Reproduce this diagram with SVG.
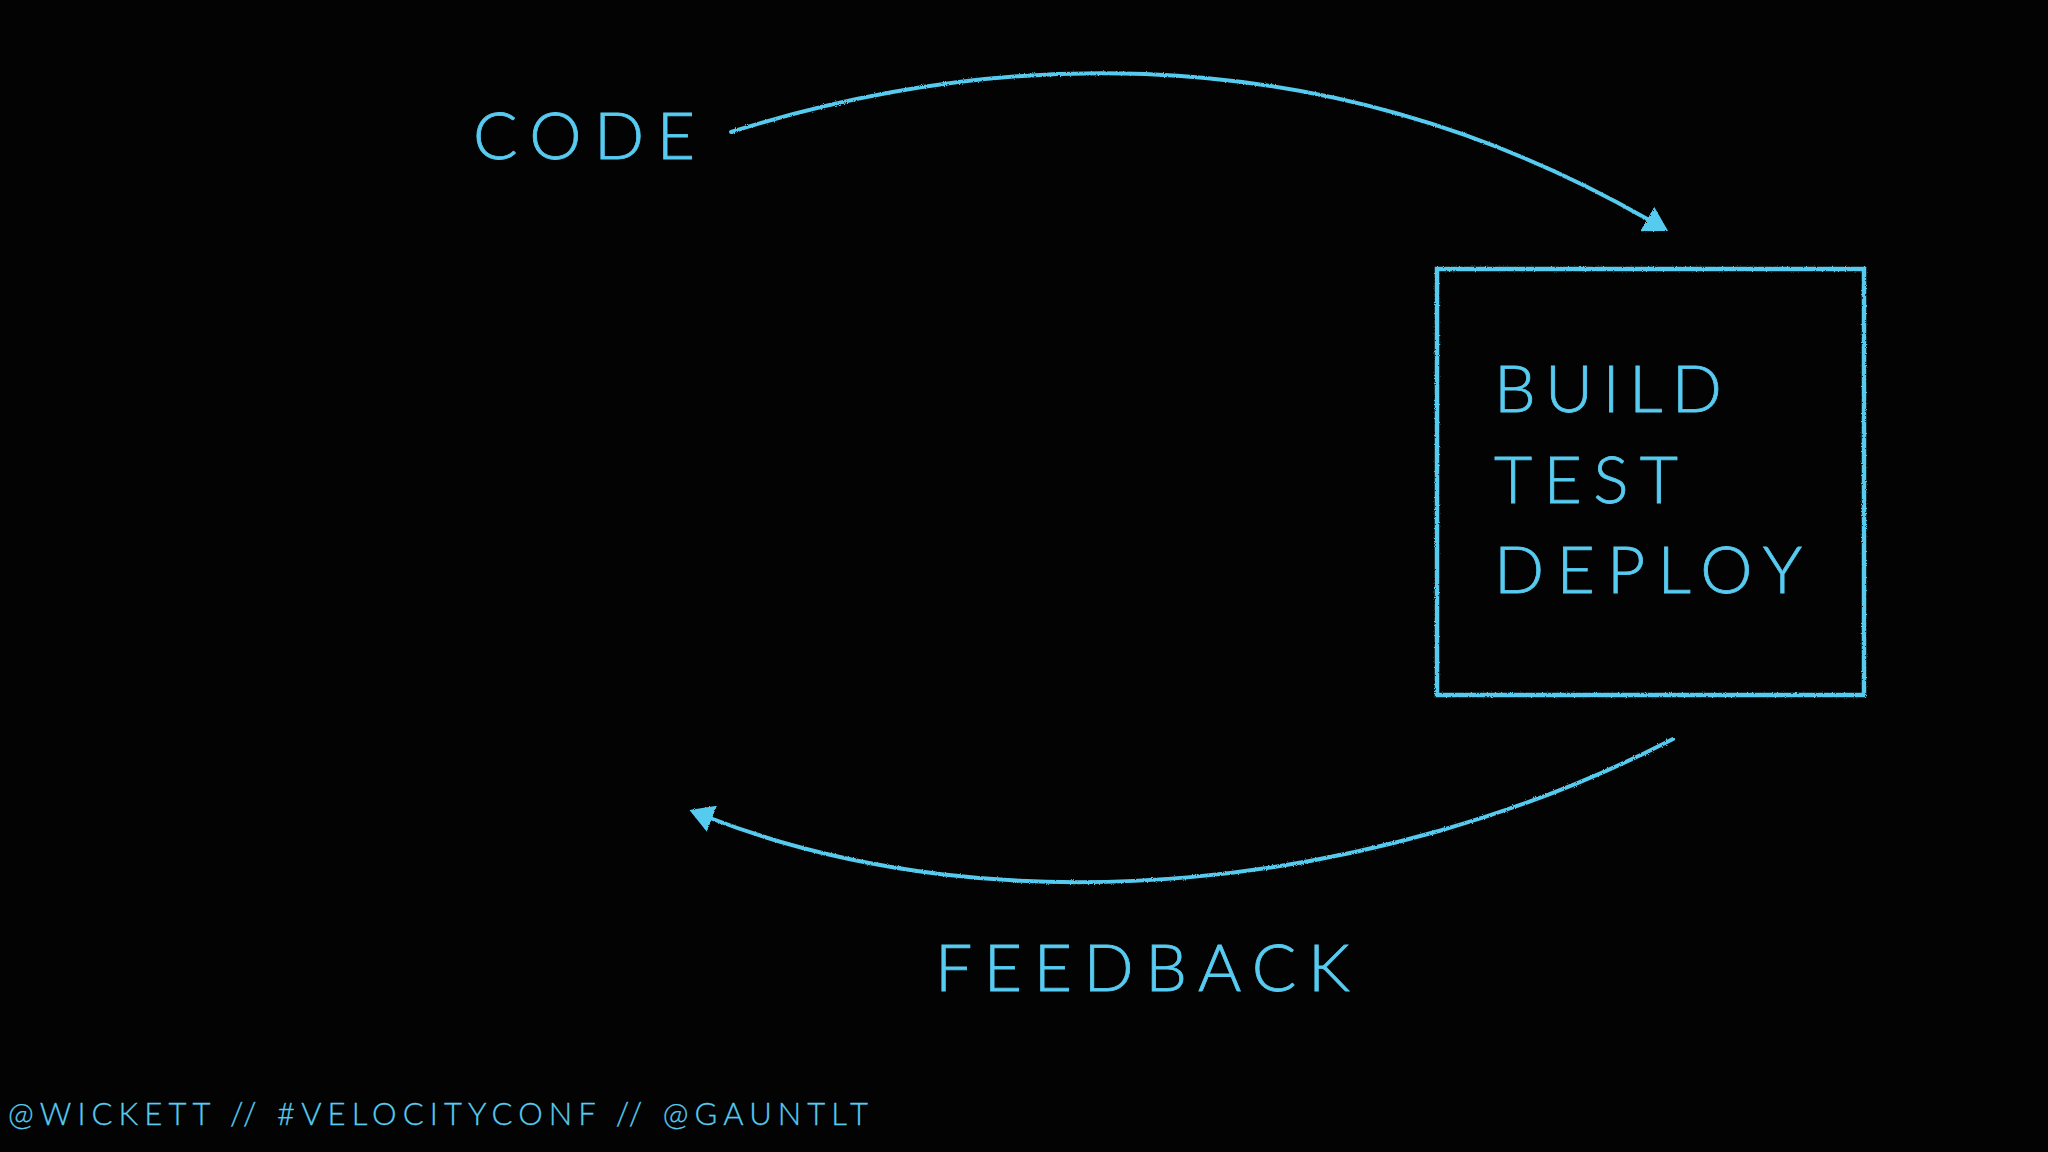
<svg xmlns="http://www.w3.org/2000/svg" width="2048" height="1152" viewBox="0 0 2048 1152">
<defs>
<style>
.t{font-family:Lato,"Noto Sans","Liberation Sans",sans-serif;fill:#57CBF0;font-weight:300;stroke:#57CBF0;stroke-width:0.8}
.big{font-size:66px}
.foot{font-size:31px;stroke-width:0.3}
.conn{fill:none;stroke:#57CBF0;stroke-width:4;stroke-linecap:round}
</style>
<filter id="chalk" x="-5%" y="-5%" width="110%" height="110%">
<feTurbulence type="fractalNoise" baseFrequency="0.9" numOctaves="2" seed="3" result="n"/>
<feDisplacementMap in="SourceGraphic" in2="n" scale="2.5"/>
</filter>
<marker id="arr" viewBox="0 0 24 28" refX="2" refY="14" markerWidth="24" markerHeight="28" markerUnits="userSpaceOnUse" orient="auto">
<path d="M0,0 L24,14 L0,28 Z" fill="#57CBF0"/>
</marker>
</defs>
<rect width="2048" height="1152" fill="#030303"/>
<g id="code"><text class="t big" x="473" y="159" textLength="222" lengthAdjust="spacing">CODE</text></g>
<g id="pipeline">
<rect x="1437" y="269" width="427" height="426" fill="none" stroke="#57CBF0" stroke-width="4.5" filter="url(#chalk)"/>
<text class="t big" x="1494" y="412" textLength="228" lengthAdjust="spacing">BUILD</text>
<text class="t big" x="1494" y="503" textLength="184" lengthAdjust="spacing">TEST</text>
<text class="t big" x="1494" y="593" textLength="308" lengthAdjust="spacing">DEPLOY</text>
</g>
<g id="feedback"><text class="t big" x="935" y="991" textLength="415" lengthAdjust="spacing">FEEDBACK</text></g>
<g id="connectors" filter="url(#chalk)">
<path class="conn" d="M731,132 C960,60 1300,20 1649,220" marker-end="url(#arr)"/>
<path class="conn" d="M1673,739 C1380,890 1000,930 710,818" marker-end="url(#arr)"/>
</g>
<g id="footer"><text class="t foot" x="8" y="1125" textLength="860" lengthAdjust="spacing">@WICKETT // #VELOCITYCONF // @GAUNTLT</text></g>
</svg>
